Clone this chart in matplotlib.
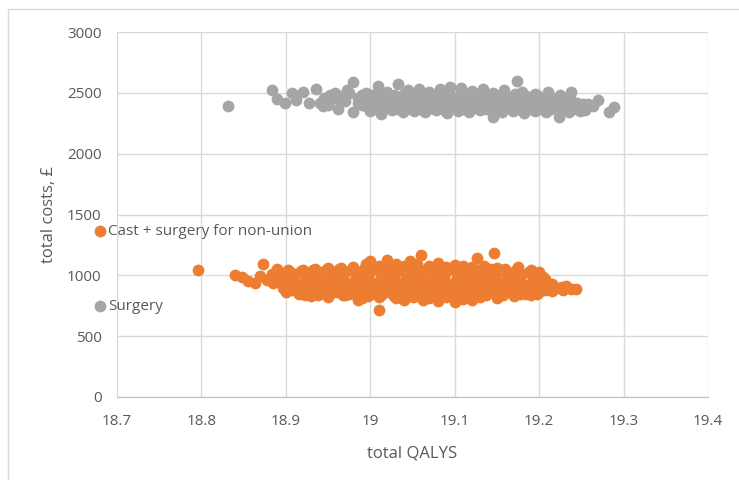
import matplotlib.pyplot as plt
from matplotlib.patches import Rectangle

# (total QALYs, total cost) pairs for each strategy
cast_pts = [
    # left tail
    (18.796, 1045), (18.840, 1003), (18.848, 985), (18.855, 950), (18.863, 937),
    (18.869, 994), (18.873, 1090), (18.878, 960), (18.884, 1010), (18.889, 1052),
    (18.885, 940),
    # upper edge
    (18.905, 1025), (18.92, 1045), (18.935, 1055), (18.95, 1060), (18.965, 1060),
    (18.98, 1065), (18.995, 1090), (19.0, 1120), (19.01, 1075), (19.02, 1130),
    (19.03, 1095), (19.04, 1080), (19.047, 1120), (19.055, 1090), (19.06, 1170),
    (19.07, 1080), (19.08, 1100), (19.09, 1070), (19.1, 1085), (19.11, 1075),
    (19.12, 1065), (19.126, 1140), (19.135, 1080), (19.147, 1180), (19.15, 1060),
    (19.16, 1055), (19.175, 1065), (19.19, 1045), (19.2, 1030),
    # body
    (18.895, 1000), (18.91, 1015), (18.925, 1005), (18.94, 1025), (18.955, 1010),
    (18.97, 1030), (18.985, 1005), (19.0, 1025), (19.015, 1015), (19.03, 1030),
    (19.045, 1010), (19.06, 1025), (19.075, 1015), (19.09, 1030), (19.105, 1005),
    (19.12, 1020), (19.135, 1010), (19.15, 1025), (19.165, 1005), (19.18, 1015),
    (19.195, 1000), (19.205, 985),
    (18.9025, 1040), (18.9175, 1035), (18.9325, 1045), (18.9475, 1040),
    (18.9625, 1050), (18.9775, 1045), (18.9925, 1055), (19.0075, 1050),
    (19.0225, 1060), (19.0375, 1050), (19.0525, 1060), (19.0675, 1055),
    (19.0825, 1060), (19.0975, 1050), (19.1125, 1055), (19.1275, 1045),
    (19.1425, 1050), (19.1575, 1040), (19.1725, 1040), (19.1875, 1030),
    (18.8925, 980), (18.9075, 990), (18.9225, 975), (18.9375, 990), (18.9525, 980),
    (18.9675, 990), (18.9825, 975), (18.9975, 990), (19.0125, 980), (19.0275, 990),
    (19.0425, 975), (19.0575, 990), (19.0725, 980), (19.0875, 990), (19.1025, 975),
    (19.1175, 990), (19.1325, 980), (19.1475, 990), (19.1625, 975), (19.1775, 985),
    (19.1925, 970), (19.2075, 970),
    (18.89, 950), (18.905, 965), (18.92, 945), (18.935, 965), (18.95, 950),
    (18.965, 960), (18.98, 945), (18.995, 965), (19.01, 950), (19.025, 960),
    (19.04, 945), (19.055, 965), (19.07, 950), (19.085, 960), (19.1, 945),
    (19.115, 965), (19.13, 950), (19.145, 960), (19.16, 945), (19.175, 955),
    (19.19, 940), (19.205, 950), (19.215, 930),
    (18.8975, 930), (18.9125, 925), (18.9275, 935), (18.9425, 925), (18.9575, 935),
    (18.9725, 925), (18.9875, 935), (19.0025, 925), (19.0175, 935), (19.0325, 925),
    (19.0475, 935), (19.0625, 925), (19.0775, 935), (19.0925, 925), (19.1075, 935),
    (19.1225, 925), (19.1375, 935), (19.1525, 925), (19.1675, 930), (19.1825, 920),
    (19.1975, 925), (19.2125, 915), (19.2275, 905),
    (18.897, 900), (18.912, 910), (18.927, 895), (18.942, 915), (18.957, 900),
    (18.972, 910), (18.987, 895), (19.002, 915), (19.017, 900), (19.032, 910),
    (19.047, 895), (19.062, 915), (19.077, 900), (19.092, 910), (19.107, 895),
    (19.122, 915), (19.137, 900), (19.152, 910), (19.167, 895), (19.182, 905),
    (19.197, 890), (19.21, 905), (19.222, 895), (19.232, 915),
    (18.9075, 880), (18.9225, 875), (18.9375, 885), (18.9525, 875), (18.9675, 885),
    (18.9825, 875), (18.9975, 885), (19.0125, 875), (19.0275, 885), (19.0425, 875),
    (19.0575, 885), (19.0725, 875), (19.0875, 885), (19.1025, 875), (19.1175, 885),
    (19.1325, 875), (19.1475, 885), (19.1625, 875), (19.1775, 880), (19.1925, 870),
    (19.2075, 880), (19.2375, 890),
    (18.9, 860), (18.915, 850), (18.93, 865), (18.945, 855), (18.96, 865),
    (18.975, 850), (18.99, 860), (19.005, 850), (19.02, 865), (19.035, 855),
    (19.05, 860), (19.065, 850), (19.08, 865), (19.095, 855), (19.11, 860),
    (19.125, 850), (19.14, 865), (19.155, 855), (19.17, 860), (19.185, 850),
    (19.2, 860), (19.215, 870), (19.228, 880), (19.244, 885),
    (18.9225, 840), (18.9375, 835), (18.9525, 845), (18.9675, 835), (18.9825, 840),
    (18.9975, 830), (19.0125, 840), (19.0275, 830), (19.0425, 840), (19.0575, 830),
    (19.0725, 840), (19.0875, 830), (19.1025, 840), (19.1175, 830), (19.1375, 840),
    (19.1575, 835), (19.1775, 845), (19.1975, 845),
    (18.93, 830), (18.95, 820), (18.97, 835), (18.99, 815), (19.01, 825),
    (19.03, 810), (19.05, 825), (19.07, 815), (19.09, 820), (19.11, 805),
    (19.13, 825), (19.15, 815), (19.17, 830), (19.19, 835),
    # lower edge
    (18.985, 800), (19.01, 718), (19.04, 795), (19.062, 800), (19.08, 785),
    (19.1, 780), (19.12, 800),
]

surgery_pts = [
    # left side
    (18.832, 2395), (18.884, 2520), (18.889, 2446), (18.899, 2413), (18.907, 2500),
    (18.912, 2440), (18.92, 2510), (18.928, 2415), (18.936, 2530), (18.945, 2460),
    (18.95, 2400), (18.958, 2500), (18.965, 2440), (18.972, 2520), (18.98, 2585),
    (18.985, 2460), (18.979, 2345), (18.99, 2400),
    (18.94, 2420), (18.952, 2480), (18.962, 2370), (18.97, 2430), (18.975, 2500),
    (18.985, 2420), (18.99, 2480), (18.944, 2390), (18.957, 2455), (18.968, 2475),
    # body
    (18.995, 2500), (19.009, 2555), (19.02, 2510), (19.033, 2575), (19.045, 2520),
    (19.058, 2535), (19.07, 2505), (19.083, 2530), (19.095, 2545), (19.108, 2540),
    (19.12, 2515), (19.133, 2530), (19.145, 2500), (19.158, 2520), (19.174, 2600),
    (19.18, 2505), (19.195, 2490), (19.21, 2510), (19.225, 2480), (19.238, 2505),
    (19.0015, 2480), (19.0155, 2490), (19.0285, 2485), (19.0415, 2495),
    (19.0545, 2485), (19.0675, 2495), (19.0805, 2480), (19.0935, 2495),
    (19.1065, 2485), (19.1195, 2490), (19.1325, 2480), (19.1455, 2485),
    (19.1585, 2480), (19.1715, 2490), (19.1845, 2475), (19.1975, 2480),
    (19.2105, 2470), (19.2235, 2465), (19.2365, 2455),
    (18.998, 2450), (19.01, 2465), (19.024, 2445), (19.037, 2470), (19.05, 2455),
    (19.063, 2465), (19.076, 2445), (19.089, 2470), (19.102, 2455), (19.115, 2460),
    (19.128, 2440), (19.141, 2465), (19.154, 2450), (19.167, 2460), (19.18, 2445),
    (19.193, 2455), (19.206, 2440), (19.219, 2450), (19.232, 2435), (19.245, 2420),
    (19.258, 2410), (19.27, 2440),
    (19.0045, 2425), (19.0175, 2430), (19.0305, 2420), (19.0435, 2430),
    (19.0565, 2420), (19.0695, 2430), (19.0825, 2425), (19.0955, 2430),
    (19.1085, 2420), (19.1215, 2425), (19.1345, 2420), (19.1475, 2430),
    (19.1605, 2420), (19.1735, 2425), (19.1865, 2420), (19.1995, 2425),
    (19.2125, 2415), (19.2255, 2420), (19.2385, 2410), (19.2515, 2405),
    (18.995, 2395), (19.005, 2410), (19.018, 2390), (19.031, 2405), (19.044, 2395),
    (19.057, 2410), (19.07, 2390), (19.083, 2405), (19.096, 2395), (19.109, 2410),
    (19.122, 2390), (19.135, 2405), (19.148, 2395), (19.161, 2400), (19.174, 2390),
    (19.187, 2405), (19.2, 2385), (19.213, 2400), (19.226, 2390), (19.239, 2395),
    (19.252, 2380), (19.264, 2390),
    (19.0065, 2370), (19.0195, 2375), (19.0325, 2365), (19.0455, 2375),
    (19.0585, 2370), (19.0715, 2375), (19.0845, 2365), (19.0975, 2375),
    (19.1105, 2370), (19.1235, 2375), (19.1365, 2365), (19.1495, 2370),
    (19.1625, 2375), (19.1755, 2365), (19.1885, 2370), (19.2015, 2365),
    (19.2145, 2370), (19.2275, 2365), (19.2405, 2370), (19.2545, 2360),
    (19.0, 2350), (19.013, 2325), (19.026, 2355), (19.039, 2345), (19.052, 2350),
    (19.065, 2340), (19.078, 2355), (19.091, 2335), (19.104, 2350), (19.117, 2345),
    (19.13, 2355), (19.145, 2305), (19.156, 2345), (19.169, 2350), (19.182, 2335),
    (19.195, 2350), (19.208, 2340), (19.224, 2305), (19.235, 2340), (19.248, 2350),
    (19.283, 2345), (19.289, 2385),
]

x_ticks = [18.7, 18.8, 18.9, 19, 19.1, 19.2, 19.3, 19.4]
x_labels = ['18.7', '18.8', '18.9', '19', '19.1', '19.2', '19.3', '19.4']
y_ticks = [0, 500, 1000, 1500, 2000, 2500, 3000]

cast_x, cast_y = zip(*cast_pts)
surg_x, surg_y = zip(*surgery_pts)

plt.rcParams['font.family'] = ['Open Sans', 'DejaVu Sans']

fig = plt.figure(figsize=(7.39, 4.8), dpi=100)
ax = fig.add_axes([117 / 739, 1 - 397 / 480, 591 / 739, 365 / 480])

# chart area border
fig.patches.append(Rectangle((8 / 739, -0.01), 1.0, 1 - 9 / 480 + 0.01,
                             transform=fig.transFigure, fill=False,
                             edgecolor='#d9d9d9', linewidth=1))

ax.scatter(cast_x, cast_y, s=72, color='#ed7d31', linewidths=0,
           label='Cast + surgery for non-union', zorder=3)
ax.scatter(surg_x, surg_y, s=72, color='#a5a5a5', linewidths=0,
           label='Surgery', zorder=3)

ax.set_xlim(18.7, 19.4)
ax.set_ylim(0, 3000)
ax.set_xticks(x_ticks)
ax.set_xticklabels(x_labels)
ax.set_yticks(y_ticks)
ax.grid(True, color='#d9d9d9', linewidth=1)
ax.set_axisbelow(True)
for side in ['top', 'right', 'left']:
    ax.spines[side].set_visible(False)
ax.spines['bottom'].set_color('#bfbfbf')
ax.tick_params(length=0, labelsize=11, labelcolor='#595959')
ax.tick_params(axis='x', pad=12)
ax.tick_params(axis='y', pad=11)

ax.set_xlabel('total QALYS', fontsize=12, color='#595959', labelpad=12)
ax.set_ylabel('total costs, £', fontsize=12, color='#595959', labelpad=7)

fig.legend(loc='upper left', bbox_to_anchor=(95 / 739, 1 - 224 / 480),
           frameon=False, fontsize=11, labelcolor='#595959',
           handlelength=0.7, handletextpad=0.15, borderpad=0,
           borderaxespad=0, labelspacing=3.95)

plt.savefig('out.png', dpi=100)
